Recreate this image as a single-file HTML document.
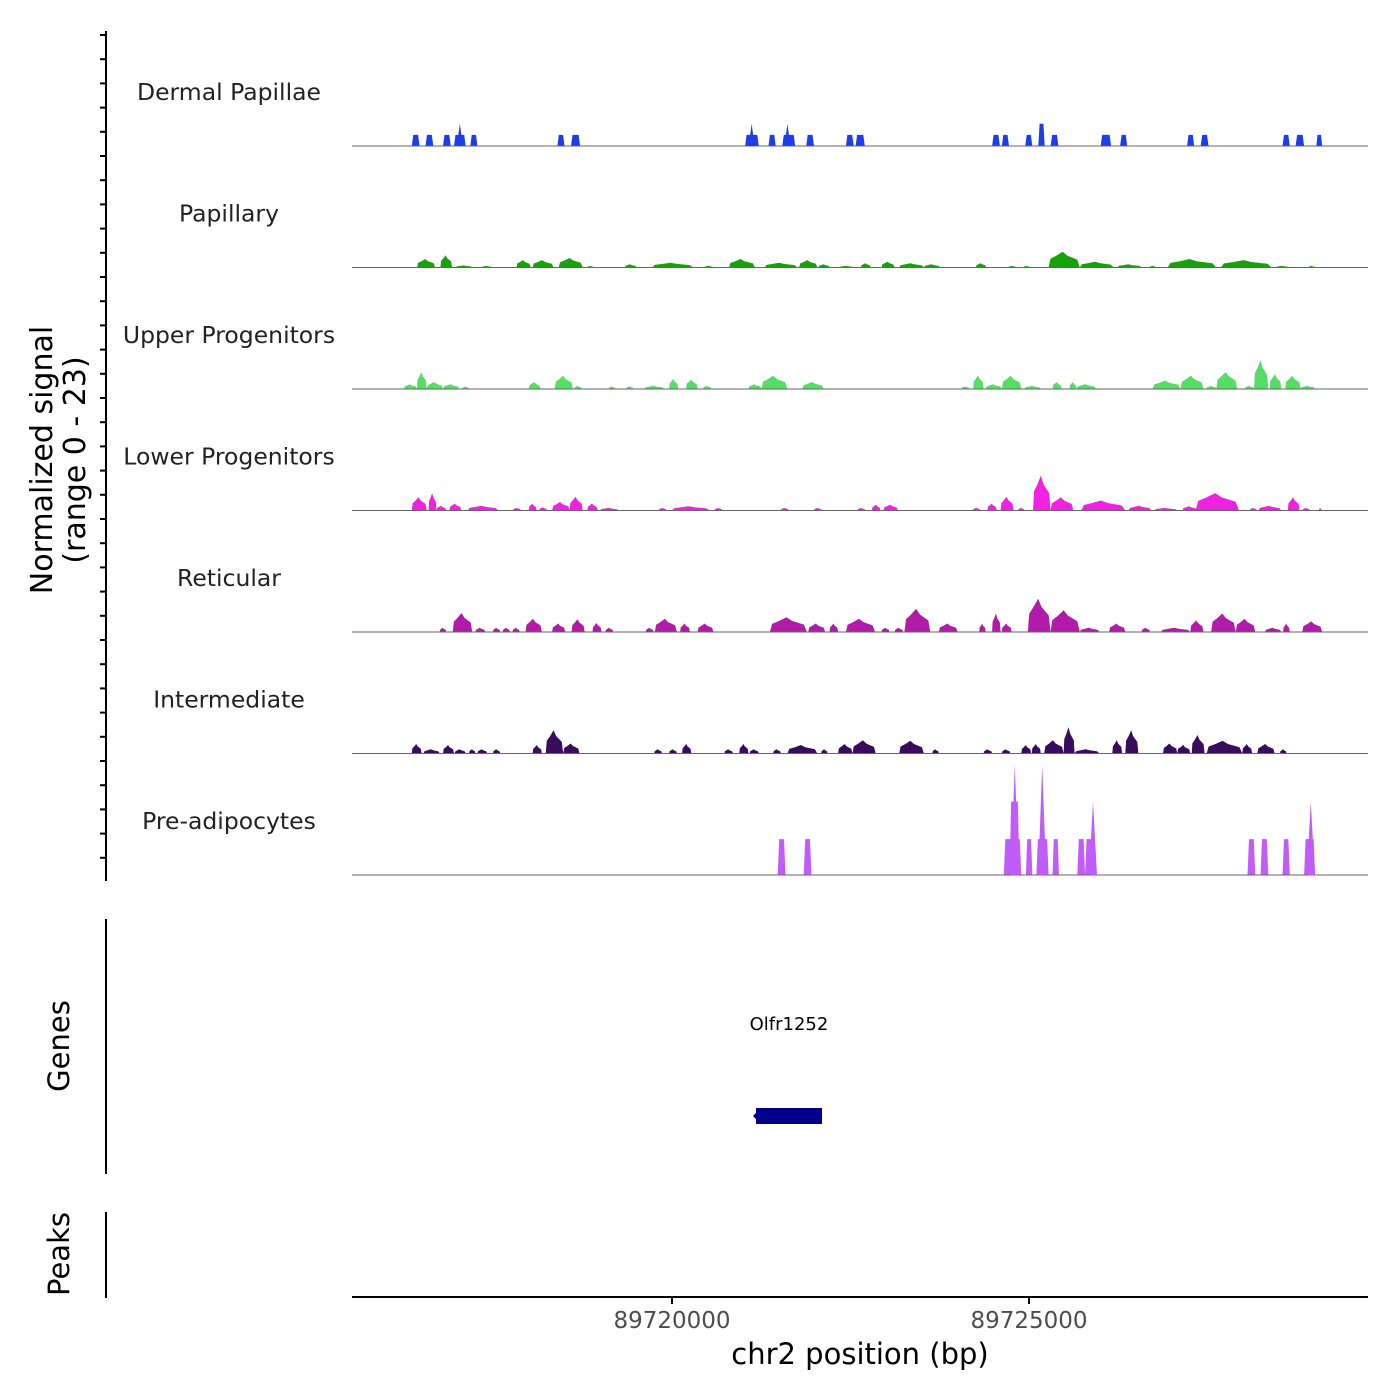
<!DOCTYPE html>
<html><head><meta charset="utf-8"><style>
html,body{margin:0;padding:0;background:#fff;}
svg{display:block;font-family:"DejaVu Sans","Liberation Sans",sans-serif;}
</style></head><body>
<svg id="chart" width="1400" height="1400" viewBox="0 0 1400 1400"></svg>
<script>
const REGION_START = 89715518, REGION_END = 89729748;
const OFFSET_UNIT = 1.949; // bp per offset unit in the arrays below
const trackNames = ["Dermal Papillae","Papillary","Upper Progenitors","Lower Progenitors","Reticular","Intermediate","Pre-adipocytes"];
const trackColors = ["#1c3ee4","#17a20c","#55dd66","#f022e2","#b21aaa","#390b5c","#c05cf8"];
const dpStart=[430,528,654,733,850,1476,1574,2825,2993,3092,3264,3549,3619,4600,4670,4838,4932,5020,5380,5520,6001,6099,6687,6781,6930];
const dpEnd=[486,584,710,817,901,1527,1639,2923,3045,3185,3320,3605,3685,4656,4721,4889,4978,5076,5455,5571,6052,6155,6739,6842,6972];
const dpVal=[2.1,2.1,2.1,2.1,2.1,2.1,2.1,2.1,2.1,2.1,2.1,2.1,2.1,2.1,2.1,2.1,4.2,2.1,2.1,2.1,2.1,2.1,2.1,2.1,2.1];
const dpSpikeCenter=[775,2872,3129];
const dpSpikeVal=[4.2,4.2,4.2];
const papStart=[467,635,747,934,1182,1298,1485,1691,1961,2158,2531,2709,2965,3213,3353,3503,3657,3806,3932,4110,4483,4717,4824,5006,5230,5501,5730,5861,6244,6641,6874];
const papEnd=[598,719,864,1004,1284,1448,1658,1737,2045,2452,2597,2895,3199,3344,3432,3605,3727,3899,4110,4226,4558,4773,4875,5230,5473,5674,5781,6211,6608,6734,6921];
const papVal=[1.6,2.3,0.4,0.3,1.4,1.4,1.8,0.3,0.6,0.9,0.3,1.6,0.9,1.4,0.6,0.3,0.8,1.1,0.8,0.6,0.8,0.3,0.3,3.0,1.1,0.6,0.3,1.6,1.4,0.3,0.3];
const upStart=[374,467,537,654,794,1270,1457,1597,1845,1971,2102,2279,2400,2522,2849,2942,3236,4380,4465,4553,4670,4833,5034,5156,5207,5753,5954,6141,6211,6417,6482,6594,6706,6818];
const upEnd=[467,537,654,771,841,1354,1588,1649,1891,2022,2242,2344,2484,2583,2942,3129,3390,4437,4539,4670,4810,4950,5100,5207,5347,5954,6118,6211,6361,6482,6585,6678,6818,6921];
const upVal=[0.9,3.2,1.3,0.9,0.5,1.3,2.5,0.6,0.5,0.5,0.6,1.9,1.8,0.6,0.9,2.5,1.3,0.5,2.6,0.9,2.5,0.6,1.3,1.3,0.9,1.6,2.5,0.6,3.2,0.6,5.4,2.8,2.5,0.6];
const lpStart=[430,551,607,700,831,1158,1270,1345,1438,1564,1691,1784,2204,2298,2606,3082,3320,3633,3736,3820,4460,4567,4661,4787,4894,5020,5240,5581,5767,5968,6062,6454,6515,6725,6832,6949];
const lpEnd=[537,607,677,785,1051,1214,1326,1401,1564,1658,1765,1915,2260,2569,2662,3138,3376,3689,3797,3923,4516,4633,4754,4833,5020,5184,5557,5744,5931,6071,6375,6501,6678,6809,6884,6968];
const lpVal=[2.5,3.3,0.9,1.3,0.9,0.5,1.3,0.6,1.6,2.6,1.3,0.5,0.5,0.8,0.5,0.5,0.5,0.5,1.1,1.1,0.5,1.3,2.6,0.5,6.6,2.5,1.9,0.9,0.5,0.8,3.3,0.5,0.9,2.5,0.5,0.5];
const retStart=[630,724,887,1013,1083,1153,1247,1438,1578,1728,1821,2111,2176,2358,2484,3003,3278,3432,3549,3806,3899,3970,4217,4507,4600,4670,4857,5020,5230,5441,5674,5814,6024,6174,6351,6561,6692,6828];
const retEnd=[677,864,957,1065,1135,1205,1364,1532,1672,1793,1877,2167,2335,2428,2597,3269,3400,3493,3759,3862,3960,4156,4352,4553,4661,4740,5020,5230,5371,5557,5735,6024,6118,6351,6491,6678,6739,6972];
const retVal=[0.8,3.6,0.8,0.8,0.8,0.8,2.5,1.6,2.4,1.7,0.8,0.8,2.5,1.6,1.6,2.8,1.6,1.6,2.5,0.8,0.8,4.4,1.6,1.6,3.5,1.6,6.3,4.1,0.8,1.6,0.8,0.8,2.2,3.5,2.5,0.8,1.6,2.0];
const intStart=[430,514,654,738,841,901,1013,1298,1392,1518,2172,2279,2372,2676,2783,2858,3026,3129,3372,3493,3596,3932,4170,4539,4670,4810,4885,4974,5114,5193,5464,5557,5828,5931,6034,6141,6398,6505,6669];
const intEnd=[500,630,733,817,887,971,1065,1364,1518,1635,2228,2335,2438,2737,2849,2923,3082,3344,3418,3596,3764,4110,4217,4600,4731,4880,4950,5114,5193,5371,5534,5651,5931,6024,6127,6398,6468,6631,6716];
const intVal=[1.8,0.8,1.6,0.8,0.8,0.8,0.8,1.6,4.4,1.9,0.8,0.8,1.8,0.8,1.8,0.8,0.8,1.6,0.8,1.8,2.5,2.4,0.8,0.8,0.8,1.6,1.8,2.5,5.0,0.8,2.5,4.4,1.9,1.6,3.5,2.4,1.8,1.8,0.8];
const preStart=[3059,3246,4684,4726,4843,4918,5034,5212,5268,6435,6529,6687,6842];
const preEnd=[3115,3302,4810,4796,4889,5006,5081,5268,5347,6491,6585,6739,6921];
const preVal=[6.8,6.8,6.8,13.9,6.8,6.8,6.8,6.8,6.8,6.8,6.8,6.8,6.8];
const preSpikeCenter=[4763,4960,5325,6890];
const preSpikeVal=[20.8,20.8,13.9,13.9];
const xTicks=[89720000,89725000];
const geneName="Olfr1252", geneStart=89721176, geneEnd=89722101;

const NS="http://www.w3.org/2000/svg";
const svg=document.getElementById('chart');
const X0=352,X1=1368,Y_MAX=23,TRACK_H=121.5;
const baselines=[146,267.5,389,510.5,632,753.5,875];
function xScale(bp){return X0+(bp-REGION_START)/(REGION_END-REGION_START)*(X1-X0);}
function xOff(o){return xScale(REGION_START+o*OFFSET_UNIT);}
function yScale(v,i){return baselines[i]-v/Y_MAX*TRACK_H;}
function mk(tag,attrs,txt){const e=document.createElementNS(NS,tag);for(const k in attrs)e.setAttribute(k,attrs[k]);if(txt!==undefined)e.textContent=txt;svg.appendChild(e);return e;}

const tracks=[[dpStart,dpEnd,dpVal,'block'],[papStart,papEnd,papVal,'peak'],[upStart,upEnd,upVal,'peak'],[lpStart,lpEnd,lpVal,'peak'],[retStart,retEnd,retVal,'peak'],[intStart,intEnd,intVal,'peak'],[preStart,preEnd,preVal,'block']];
tracks.forEach((t,i)=>{
  const [S,E,V,shape]=t;
  const lab=mk('text',{x:229,y:baselines[i]-46,'text-anchor':'middle','font-size':23.5,fill:'#222'},trackNames[i]);
  
  
  for(let j=0;j<S.length;j++){
    const s=xOff(S[j]),e=xOff(E[j]),w=e-s,b=baselines[i],top=yScale(V[j],i),h=b-top;
    let pts;
    if(shape==='block') pts=[[s,b],[s+Math.min(1.5,w*0.2),top],[e-Math.min(1.5,w*0.2),top],[e,b]];
    else pts=[[s,b],[s+w*0.06,b-h*0.55],[s+w*0.25,b-h*0.75],[s+w*0.45,top],[s+w*0.6,b-h*0.75],[e-w*0.08,b-h*0.5],[e,b]];
    const p=mk('polygon',{points:pts.map(q=>q[0].toFixed(1)+','+q[1].toFixed(1)).join(' '),fill:trackColors[i]});
    
    
  }
  const bl=mk('line',{x1:X0,x2:X1,y1:baselines[i],y2:baselines[i],stroke:'#666','stroke-width':1});
  
  
});
function spikes(C,V,i,hw){
  for(let j=0;j<C.length;j++){
    const c=xOff(C[j]),b=baselines[i];
    const p=mk('polygon',{points:`${c-hw},${b} ${c},${yScale(V[j],i)} ${c+hw},${b}`,fill:trackColors[i]});
    
    
  }
}
spikes(dpSpikeCenter,dpSpikeVal,0,3);
spikes(preSpikeCenter,preSpikeVal,6,4);

const ax=mk('line',{x1:106,x2:106,y1:31,y2:881,stroke:'#000','stroke-width':2});


for(let y=35;y<=880;y+=24.2){
  const t=mk('line',{x1:100,x2:106,y1:y,y2:y,stroke:'#000','stroke-width':2});
  
  
}
const yt=mk('text',{transform:'translate(52,460) rotate(-90)','text-anchor':'middle','font-size':30,fill:'#000'});


const t1=document.createElementNS(NS,'tspan');t1.setAttribute('x',0);t1.setAttribute('dy',0);t1.textContent='Normalized signal';yt.appendChild(t1);
const t2=document.createElementNS(NS,'tspan');t2.setAttribute('x',0);t2.setAttribute('dy',33);t2.textContent='(range 0 - 23)';yt.appendChild(t2);

const ga=mk('line',{x1:106,x2:106,y1:919,y2:1174,stroke:'#000','stroke-width':2});


const gt=mk('text',{transform:'translate(69,1046) rotate(-90)','text-anchor':'middle','font-size':29,fill:'#000'},'Genes');


const gx0=xScale(geneStart),gx1=xScale(geneEnd);
const gr=mk('rect',{x:gx0,y:1108,width:gx1-gx0,height:16,fill:'#00008b'});


const gar=mk('polygon',{points:`${gx0-3},1116 ${gx0+2},1111 ${gx0+2},1121`,fill:'#00008b'});


const gl=mk('text',{x:(gx0+gx1)/2,y:1030,'text-anchor':'middle','font-size':18,fill:'#000'},geneName);



const pa=mk('line',{x1:106,x2:106,y1:1212,y2:1298,stroke:'#000','stroke-width':2});


const pt=mk('text',{transform:'translate(69,1254) rotate(-90)','text-anchor':'middle','font-size':29,fill:'#000'},'Peaks');



const xa=mk('line',{x1:X0,x2:X1,y1:1297,y2:1297,stroke:'#000','stroke-width':2});


xTicks.forEach(v=>{
  const x=xScale(v);
  const tk=mk('line',{x1:x,x2:x,y1:1297,y2:1304,stroke:'#000','stroke-width':2});
  
  
  const tl=mk('text',{x:x,y:1328,'text-anchor':'middle','font-size':23,fill:'#4d4d4d'},String(v));
  
  
});
const xt=mk('text',{x:860,y:1364,'text-anchor':'middle','font-size':29,fill:'#000'},'chr2 position (bp)');


</script>
</body></html>
